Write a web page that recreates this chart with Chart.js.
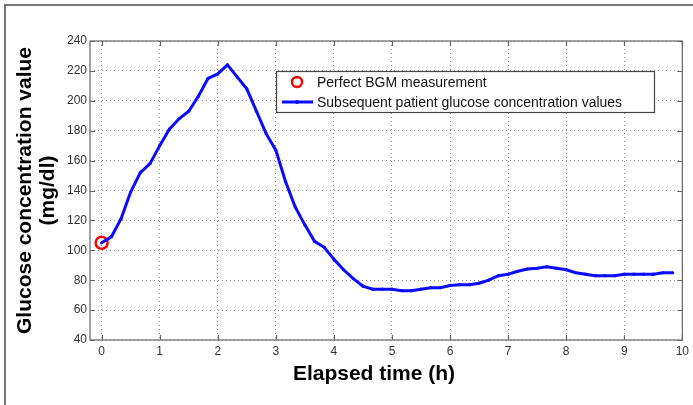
<!DOCTYPE html>
<html>
<head>
<meta charset="utf-8">
<script src="https://cdn.jsdelivr.net/npm/chart.js@4.4.1/dist/chart.umd.min.js"></script>
<style>
  html, body { margin: 0; padding: 0; background: #fff; }
  canvas { display: block; }
</style>
</head>
<body>
<canvas id="glucose-chart" width="693" height="405"></canvas>
<script>
// sample times, minutes after the BGM reading (10 min interval)
var elapsedMinutes = [
    0, 10, 20, 30, 40, 50, 60, 70, 80, 90,
    100, 110, 120, 130, 140, 150, 160, 170, 180, 190,
    200, 210, 220, 230, 240, 250, 260, 270, 280, 290,
    300, 310, 320, 330, 340, 350, 360, 370, 380, 390,
    400, 410, 420, 430, 440, 450, 460, 470, 480, 490,
    500, 510, 520, 530, 540, 550, 560, 570, 580, 590
];
var glucoseValues = [
    105, 109, 121, 139, 152, 158, 170, 181, 188, 193,
    203, 215, 218, 224, 216, 208, 193, 178, 167, 146,
    129, 117, 106, 102, 94, 87, 81, 76, 74, 74,
    74, 73, 73, 74, 75, 75, 76.5, 77, 77, 78,
    80, 83, 84, 86, 87.5, 88, 89, 88, 87, 85,
    84, 83, 83, 83, 84, 84, 84, 84, 85, 85
];
var bgmTime = [0];
var bgmValue = [105];

var timeTicks = [0, 1, 2, 3, 4, 5, 6, 7, 8, 9, 10];
var glucoseTicks = [40, 60, 80, 100, 120, 140, 160, 180, 200, 220, 240];

var glucosePoints = [];
for (var i = 0; i < elapsedMinutes.length; i++) {
    glucosePoints.push({ x: elapsedMinutes[i] / 60, y: glucoseValues[i] });
}
var bgmPoints = [];
for (var j = 0; j < bgmTime.length; j++) {
    bgmPoints.push({ x: bgmTime[j], y: bgmValue[j] });
}

// grey frame round the figure (top and left edges only are visible)
var figureFrame = {
    id: 'figureFrame',
    beforeDraw: function (chart) {
        var ctx = chart.ctx;
        ctx.save();
        ctx.strokeStyle = '#777';
        ctx.lineWidth = 2;
        ctx.beginPath();
        ctx.moveTo(5, chart.height);
        ctx.lineTo(5, 5);
        ctx.lineTo(chart.width, 5);
        ctx.stroke();
        ctx.restore();
    }
};

// matlab style axes box with inward tick marks on all four sides
var axesBox = {
    id: 'axesBox',
    afterDatasetsDraw: function (chart) {
        var ctx = chart.ctx;
        var a = chart.chartArea;
        var xs = chart.scales.x;
        var ys = chart.scales.y;
        var len = 5;
        ctx.save();
        ctx.strokeStyle = '#666';
        ctx.lineWidth = 1.2;
        ctx.beginPath();
        xs.ticks.forEach(function (t) {
            var px = Math.round(xs.getPixelForValue(t.value)) + 0.5;
            ctx.moveTo(px, a.bottom);
            ctx.lineTo(px, a.bottom - len);
            ctx.moveTo(px, a.top);
            ctx.lineTo(px, a.top + len);
        });
        ys.ticks.forEach(function (t) {
            var py = Math.round(ys.getPixelForValue(t.value)) + 0.5;
            ctx.moveTo(a.left, py);
            ctx.lineTo(a.left + len, py);
            ctx.moveTo(a.right, py);
            ctx.lineTo(a.right - len, py);
        });
        ctx.stroke();
        ctx.strokeRect(a.left, a.top, a.right - a.left, a.bottom - a.top);
        ctx.restore();
    }
};

// x label sits a bit left of the axes centre in the original figure
var xLabel = {
    id: 'xLabel',
    afterDraw: function (chart, args, opts) {
        var ctx = chart.ctx;
        ctx.save();
        ctx.font = 'bold 21px Arial, "Liberation Sans", sans-serif';
        ctx.fillStyle = '#000';
        ctx.textAlign = 'center';
        ctx.textBaseline = 'middle';
        ctx.fillText(opts.text, opts.x, opts.y);
        ctx.restore();
    }
};

// legend drawn inside the plot, like the matlab one
var insideLegend = {
    id: 'insideLegend',
    afterDraw: function (chart, args, opts) {
        var ctx = chart.ctx;
        var sets = chart.data.datasets;
        ctx.save();
        ctx.fillStyle = '#fff';
        ctx.fillRect(opts.x, opts.y, opts.width, opts.height);
        ctx.strokeStyle = '#444';
        ctx.lineWidth = 1.2;
        ctx.strokeRect(opts.x + 0.5, opts.y + 0.5, opts.width, opts.height);

        ctx.font = '14px Arial, "Liberation Sans", sans-serif';
        ctx.textBaseline = 'middle';
        for (var k = 0; k < sets.length; k++) {
            var ds = sets[k];
            var cy = opts.y + opts.rowTop + k * opts.rowGap;
            var cx = opts.x + opts.markX;
            if (ds.showLine) {
                ctx.strokeStyle = ds.borderColor;
                ctx.lineWidth = ds.borderWidth;
                ctx.beginPath();
                ctx.moveTo(cx - 15, cy);
                ctx.lineTo(cx + 16, cy);
                ctx.stroke();
                ctx.fillStyle = ds.pointBackgroundColor;
                ctx.beginPath();
                ctx.arc(cx, cy, 2, 0, Math.PI * 2);
                ctx.fill();
            } else {
                ctx.strokeStyle = ds.pointBorderColor;
                ctx.lineWidth = ds.pointBorderWidth;
                ctx.beginPath();
                ctx.arc(cx, cy, 5, 0, Math.PI * 2);
                ctx.stroke();
            }
            ctx.fillStyle = '#111';
            ctx.fillText(ds.label, opts.x + opts.textX, cy + 1);
        }
        ctx.restore();
    }
};

var ctx = document.getElementById('glucose-chart').getContext('2d');

var glucoseChart = new Chart(ctx, {
    type: 'scatter',
    data: {
        datasets: [{
            label: 'Perfect BGM measurement',
            data: bgmPoints,
            showLine: false,
            pointStyle: 'circle',
            pointRadius: 6,
            pointBorderWidth: 2.5,
            pointBorderColor: '#ff0000',
            pointBackgroundColor: 'rgba(0,0,0,0)',
            order: 2
        }, {
            label: 'Subsequent patient glucose concentration values',
            data: glucosePoints,
            showLine: true,
            tension: 0,
            borderColor: '#0a0aff',
            borderWidth: 3,
            pointRadius: 1.6,
            pointBorderWidth: 0,
            pointBackgroundColor: '#0a0aff',
            pointBorderColor: '#0a0aff',
            order: 1
        }]
    },
    options: {
        responsive: false,
        animation: false,
        layout: {
            padding: { top: 41, right: 10, left: 0, bottom: 0 }
        },
        plugins: {
            legend: { display: false },
            tooltip: { enabled: false },
            xLabel: { text: 'Elapsed time (h)', x: 374, y: 374 },
            insideLegend: {
                x: 276, y: 71, width: 378, height: 41,
                rowTop: 11, rowGap: 20, markX: 21, textX: 41
            }
        },
        scales: {
            x: {
                type: 'linear',
                min: -0.2,
                max: 10,
                afterBuildTicks: function (scale) {
                    scale.ticks = timeTicks.map(function (v) { return { value: v }; });
                },
                afterFit: function (scale) { scale.height = 65; },
                grid: { color: '#8a8a8a', lineWidth: 1, drawTicks: false },
                border: { display: false, dash: [1, 3] },
                ticks: {
                    padding: 4,
                    color: '#333',
                    autoSkip: false,
                    maxRotation: 0,
                    font: { family: 'Arial', size: 12 }
                }
            },
            y: {
                type: 'linear',
                min: 40,
                max: 240,
                afterBuildTicks: function (scale) {
                    scale.ticks = glucoseTicks.map(function (v) { return { value: v }; });
                },
                afterFit: function (scale) { scale.width = 90; },
                grid: { color: '#8a8a8a', lineWidth: 1, drawTicks: false },
                border: { display: false, dash: [1, 3] },
                ticks: {
                    padding: 3,
                    color: '#333',
                    autoSkip: false,
                    font: { family: 'Arial', size: 12 }
                },
                title: {
                    display: true,
                    text: ['Glucose concentration value', '(mg/dl)'],
                    color: '#000',
                    font: { family: 'Arial', size: 21, weight: 'bold', lineHeight: 1.1 },
                    padding: { top: 14, bottom: 0 }
                }
            }
        }
    },
    plugins: [figureFrame, axesBox, xLabel, insideLegend]
});
</script>
</body>
</html>
